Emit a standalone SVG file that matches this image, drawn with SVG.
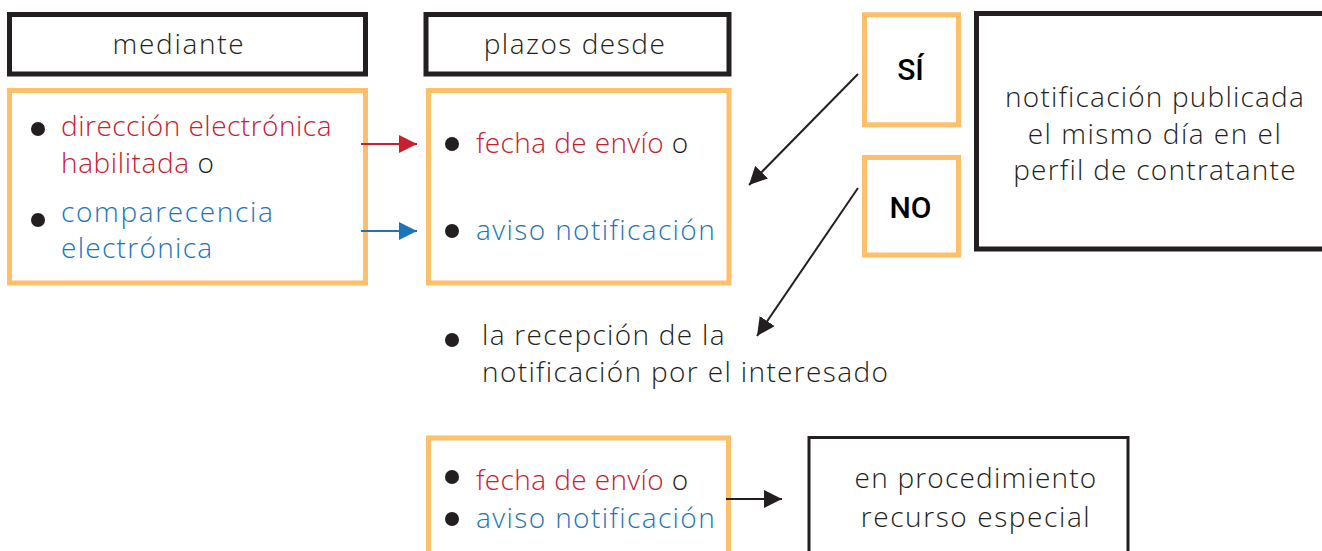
<svg xmlns="http://www.w3.org/2000/svg" width="1322" height="551" viewBox="0 0 1322 551">
<style>
.t{font-family:"Open Sans","Liberation Sans",sans-serif;font-weight:300;font-size:28px;letter-spacing:1.5px;fill:#231f20}
.r{fill:#c8202f}
.b{fill:#1b75bc}
.yn{font-family:Roboto,"Liberation Sans",sans-serif;font-weight:500;font-size:30px;fill:#000;text-anchor:middle}
.blk{fill:none;stroke:#231f20;stroke-width:5}
.org{fill:none;stroke:#fdbf67;stroke-width:5}
.dot{fill:#231f20}
.ln{stroke:#231f20;stroke-width:2;fill:none}
</style>
<defs>
<marker id="ah" viewBox="0 0 10 10" refX="10" refY="5" markerWidth="9" markerHeight="9" markerUnits="strokeWidth" orient="auto"><path d="M0,0 L10,5 L0,10 z" fill="#231f20"/></marker>
<marker id="ahr" viewBox="0 0 10 10" refX="10" refY="5" markerWidth="9" markerHeight="9" markerUnits="strokeWidth" orient="auto"><path d="M0,0 L10,5 L0,10 z" fill="#c8202f"/></marker>
<marker id="ahb" viewBox="0 0 10 10" refX="10" refY="5" markerWidth="9" markerHeight="9" markerUnits="strokeWidth" orient="auto"><path d="M0,0 L10,5 L0,10 z" fill="#1b75bc"/></marker>
</defs>

<g id="mediante">
<rect class="blk" x="9.5" y="14.5" width="356" height="59.5"/>
<text class="t" x="179" y="54" text-anchor="middle" style="letter-spacing:1.7px">mediante</text>
</g>

<g id="medios">
<rect class="org" x="9.5" y="90.5" width="356" height="192.5"/>
<circle class="dot" cx="38" cy="129" r="7"/>
<text class="t" x="61" y="136" style="letter-spacing:0.5px"><tspan class="r">dirección electrónica</tspan></text>
<text class="t" x="61" y="173" style="letter-spacing:0.6px"><tspan class="r">habilitada</tspan> o</text>
<circle class="dot" cx="38" cy="220" r="7"/>
<text class="t" x="61" y="222" style="letter-spacing:1.65px"><tspan class="b">comparecencia</tspan></text>
<text class="t" x="61" y="258" style="letter-spacing:1.3px"><tspan class="b">electrónica</tspan></text>
</g>

<g id="plazos">
<rect class="blk" x="426" y="14.5" width="303" height="59.5"/>
<text class="t" x="575" y="54" text-anchor="middle">plazos desde</text>
</g>

<g id="fechas">
<rect class="org" x="428.5" y="90.5" width="300.5" height="192.5"/>
<circle class="dot" cx="452" cy="144" r="7"/>
<text class="t" x="476" y="153" style="letter-spacing:0.4px"><tspan class="r">fecha de envío</tspan> o</text>
<circle class="dot" cx="452" cy="231" r="7"/>
<text class="t" x="476" y="240" style="letter-spacing:1.4px"><tspan class="b">aviso notificación</tspan></text>
</g>

<g id="si">
<rect class="org" x="864.5" y="14.8" width="94" height="110"/>
<text class="yn" x="910.5" y="80">SÍ</text>
</g>

<g id="no">
<rect class="org" x="864.5" y="157.5" width="94" height="97.5"/>
<text class="yn" x="910.5" y="218">NO</text>
</g>

<g id="publicada">
<rect class="blk" x="976.5" y="13.5" width="400" height="235.5"/>
<text class="t" x="1155" y="107" text-anchor="middle" style="letter-spacing:1.2px">notificación publicada</text>
<text class="t" x="1155" y="144" text-anchor="middle">el mismo día en el</text>
<text class="t" x="1155" y="180" text-anchor="middle" style="letter-spacing:1.25px">perfil de contratante</text>
</g>

<g id="recepcion">
<circle class="dot" cx="452" cy="340" r="7"/>
<text class="t" x="482" y="345" style="letter-spacing:1.3px">la recepción de la</text>
<text class="t" x="482" y="382" style="letter-spacing:1.36px">notificación por el interesado</text>
</g>

<g id="fechas2">
<rect class="org" x="428.5" y="438" width="300" height="130"/>
<circle class="dot" cx="452" cy="477" r="7"/>
<text class="t" x="476" y="490" style="letter-spacing:0.4px"><tspan class="r">fecha de envío</tspan> o</text>
<circle class="dot" cx="452" cy="519" r="7"/>
<text class="t" x="476" y="528" style="letter-spacing:1.4px"><tspan class="b">aviso notificación</tspan></text>
</g>

<g id="especial">
<rect x="809" y="437.5" width="319" height="130" fill="none" stroke="#231f20" stroke-width="3"/>
<text class="t" x="976" y="488" text-anchor="middle" style="letter-spacing:1.2px">en procedimiento</text>
<text class="t" x="976" y="527" text-anchor="middle" style="letter-spacing:1.6px">recurso especial</text>
</g>

<g id="connectors">
<line x1="361" y1="144" x2="417" y2="144" stroke="#c8202f" stroke-width="2" marker-end="url(#ahr)"/>
<line x1="361" y1="231" x2="417" y2="231" stroke="#1b75bc" stroke-width="2" marker-end="url(#ahb)"/>
<line class="ln" x1="858" y1="74" x2="749" y2="185" marker-end="url(#ah)"/>
<line class="ln" x1="858" y1="188" x2="757" y2="336" marker-end="url(#ah)"/>
<line class="ln" x1="726" y1="499" x2="782" y2="499" marker-end="url(#ah)"/>
</g>
</svg>
